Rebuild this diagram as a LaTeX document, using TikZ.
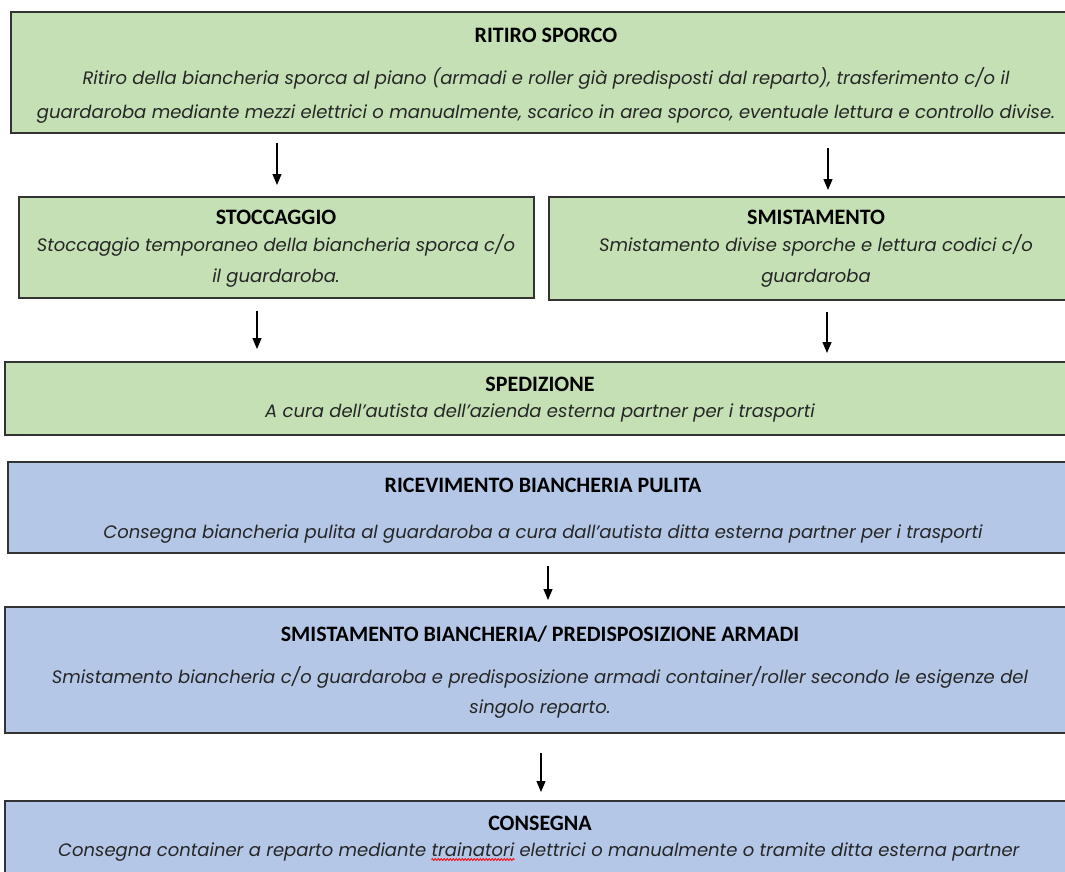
\documentclass[tikz,border=0pt]{standalone}
\usepackage{fontspec}
\usetikzlibrary{arrows.meta,decorations.pathmorphing}
\newfontfamily\headfont{Carlito}
\newfontfamily\notefont{Poppins}
\definecolor{dirtyfill}{HTML}{C5E0B4}
\definecolor{cleanfill}{HTML}{B4C7E7}
\definecolor{edge}{HTML}{333333}
\definecolor{notetext}{HTML}{262626}

\begin{document}
\begin{tikzpicture}[x=1bp,y=-1bp,
  stage/.style={draw=edge, line width=1.4bp, anchor=north west, inner sep=0pt, outer sep=0pt},
  dirty/.style={stage, fill=dirtyfill},
  clean/.style={stage, fill=cleanfill},
  head/.style={anchor=base, inner sep=0pt, font=\headfont\bfseries\fontsize{22bp}{26bp}\selectfont, text=black},
  note/.style={anchor=base, inner sep=0pt, font=\notefont\itshape\fontsize{18bp}{22bp}\selectfont, text=notetext},
  flow/.style={draw=black, line width=1.2bp, -{Triangle[width=9bp,length=11bp]}},
  wave/.style={draw=red, line width=0.8bp, decorate, decoration={snake, amplitude=1bp, segment length=3bp}}
]
\useasboundingbox (0,0) rectangle (1065,872);
\clip (0,0) rectangle (1065,872);

% ---- soiled linen: collection, storage, sorting, shipping ----
\node[dirty, minimum width=1070bp, minimum height=121bp] (ritiro) at (11,12) {};
\node[head] (ritiroT) at (546,42) {RITIRO SPORCO};
\node[note] (ritiroA) at (546,84) {Ritiro della biancheria sporca al piano (armadi e roller già predisposti dal reparto), trasferimento c/o il};
\node[note] (ritiroB) at (546,118) {guardaroba mediante mezzi elettrici o manualmente, scarico in area sporco, eventuale lettura e controllo divise.};

\node[dirty, minimum width=515bp, minimum height=101bp] (stocc) at (19,197) {};
\node[head] (stoccT) at (276,224) {STOCCAGGIO};
\node[note] (stoccA) at (276,251) {Stoccaggio temporaneo della biancheria sporca c/o};
\node[note] (stoccB) at (276,282) {il guardaroba.};

\node[dirty, minimum width=530bp, minimum height=103bp] (smist) at (549,197) {};
\node[head] (smistT) at (816,224) {SMISTAMENTO};
\node[note] (smistA) at (816,251) {Smistamento divise sporche e lettura codici c/o};
\node[note] (smistB) at (816,282) {guardaroba};

\node[dirty, minimum width=1075bp, minimum height=73bp] (sped) at (5,362) {};
\node[head] (spedT) at (540,391) {SPEDIZIONE};
\node[note] (spedA) at (540,417) {A cura dell’autista dell’azienda esterna partner per i trasporti};

% ---- clean linen: receipt, sorting, delivery ----
\node[clean, minimum width=1072bp, minimum height=91bp] (ricev) at (8,462) {};
\node[head] (ricevT) at (543,492) {RICEVIMENTO BIANCHERIA PULITA};
\node[note] (ricevA) at (543,538) {Consegna biancheria pulita al guardaroba a cura dall’autista ditta esterna partner per i trasporti};

\node[clean, minimum width=1075bp, minimum height=126bp] (smbi) at (5,607) {};
\node[head] (smbiT) at (540,641) {SMISTAMENTO BIANCHERIA/ PREDISPOSIZIONE ARMADI};
\node[note] (smbiA) at (540,683) {Smistamento biancheria c/o guardaroba e predisposizione armadi container/roller secondo le esigenze del};
\node[note] (smbiB) at (540,713) {singolo reparto.};

\node[clean, minimum width=1075bp, minimum height=90bp] (cons) at (5,801) {};
\node[head] (consT) at (540,830) {CONSEGNA};
\node[note, anchor=base west] (consA) at (58,856) {Consegna container a reparto mediante};
\node[note, anchor=base west, xshift=4.8bp] (consW) at (consA.base east) {trainatori};
\node[note, anchor=base west, xshift=4.8bp] (consB) at (consW.base east) {elettrici o manualmente o tramite ditta esterna partner};
\draw[wave] ([yshift=-3.5bp]consW.base west) -- ([yshift=-3.5bp]consW.base east);

% ---- flow arrows ----
\coordinate (f1a) at (277,143);  \coordinate (f1b) at (277,185);
\coordinate (f2a) at (828,148);  \coordinate (f2b) at (828,190);
\coordinate (f3a) at (257,311);  \coordinate (f3b) at (257,349);
\coordinate (f4a) at (827,312);  \coordinate (f4b) at (827,353);
\coordinate (f5a) at (548,566);  \coordinate (f5b) at (548,600);
\coordinate (f6a) at (541,753);  \coordinate (f6b) at (541,792);
\draw[flow] (f1a) -- (f1b);
\draw[flow] (f2a) -- (f2b);
\draw[flow] (f3a) -- (f3b);
\draw[flow] (f4a) -- (f4b);
\draw[flow] (f5a) -- (f5b);
\draw[flow] (f6a) -- (f6b);
\end{tikzpicture}
\end{document}
